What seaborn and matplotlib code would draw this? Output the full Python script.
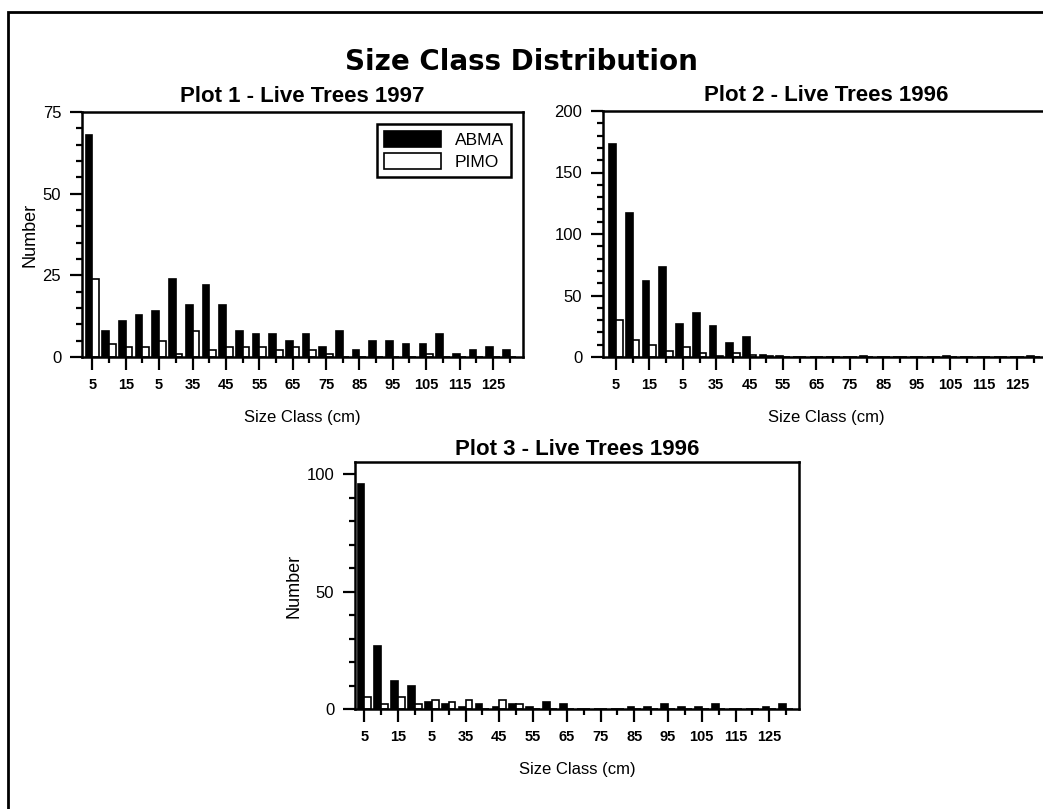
import matplotlib
matplotlib.use("Agg")
import matplotlib.pyplot as plt
import pandas as pd
import seaborn as sns
from matplotlib.patches import Rectangle

# size classes (cm), one bar pair per class
size_classes = ["5", "10", "15", "20", "25", "30", "35", "40", "45", "50", "55", "60", "65",
                "70", "75", "80", "85", "90", "95", "100", "105", "110", "115", "120", "125", "130"]
# labels printed under every other class (the original shows "5" for 25)
tick_labels = ["5", "15", "5", "35", "45", "55", "65", "75", "85", "95", "105", "115", "125"]
species = ["ABMA", "PIMO"]

plot1_abma = [68, 8, 11, 13, 14, 24, 16, 22, 16, 8, 7, 7, 5, 7, 3, 8, 2, 5, 5, 4, 4, 7, 1, 2, 3, 2]
plot1_pimo = [24, 4, 3, 3, 5, 1, 8, 2, 3, 3, 3, 2, 3, 2, 1, 0, 0, 0, 0, 0, 1, 0, 0, 0, 0, 0]

plot2_abma = [173, 117, 62, 73, 27, 36, 25, 11, 16, 2, 1, 0, 0, 0, 0, 1, 0, 0, 0, 0, 1, 0, 0, 0, 0, 1]
plot2_pimo = [30, 14, 10, 5, 8, 3, 1, 3, 2, 1, 0, 0, 0, 0, 0, 0, 0, 0, 0, 0, 0, 0, 0, 0, 0, 0]

plot3_abma = [96, 27, 12, 10, 3, 2, 1, 2, 1, 2, 1, 3, 2, 0, 0, 0, 1, 1, 2, 1, 1, 2, 0, 0, 1, 2]
plot3_pimo = [5, 2, 5, 2, 4, 3, 4, 0, 4, 2, 0, 0, 0, 0, 0, 0, 0, 0, 0, 0, 0, 0, 0, 0, 0, 0]

sns.set_theme(style="ticks")
plt.rcParams["font.family"] = ["Liberation Sans", "DejaVu Sans"]
for key in ["text.color", "axes.labelcolor", "xtick.color", "ytick.color", "axes.edgecolor"]:
    plt.rcParams[key] = "black"

W, H = 1043, 809
fig = plt.figure(figsize=(W / 100, H / 100), dpi=100)


def px_axes(left, top, right, bottom):
    return fig.add_axes([left / W, 1 - bottom / H, (right - left) / W, (bottom - top) / H])


def draw(ax, abma, pimo, title, ymax, ytop, ystep, yminor, xlim, ylabel, legend, tpad):
    df = pd.DataFrame({
        "Size": size_classes * 2,
        "Species": [species[0]] * len(size_classes) + [species[1]] * len(size_classes),
        "Count": abma + pimo,
    })
    sns.barplot(data=df, x="Size", y="Count", hue="Species", order=size_classes,
                hue_order=species, palette={"ABMA": "black", "PIMO": "white"},
                edgecolor="black", linewidth=1.2, width=0.8, errorbar=None,
                ax=ax, legend=legend)
    ax.set_xlim(*xlim)
    ax.set_ylim(0, ytop)
    ax.set_xticks(range(0, len(size_classes), 2))
    ax.set_xticklabels(tick_labels, fontsize=10.5, fontweight="bold")
    ax.set_xticks(range(1, len(size_classes), 2), minor=True)
    ax.set_yticks(range(0, ymax + 1, ystep))
    ax.set_yticks(range(0, ymax + 1, yminor), minor=True)
    ax.tick_params(axis="both", which="major", direction="out", length=9, width=1.6,
                   pad=6, color="black")
    ax.tick_params(axis="both", which="minor", direction="out", length=4.5, width=1.6,
                   color="black")
    ax.tick_params(axis="y", labelsize=12)
    for s in ax.spines.values():
        s.set_visible(True)
        s.set_linewidth(1.8)
        s.set_color("black")
    ax.set_xlabel("Size Class (cm)", fontsize=12, labelpad=13)
    ax.set_ylabel("Number" if ylabel else "", fontsize=13, labelpad=3)
    ax.set_title(title, fontsize=16, fontweight="bold", pad=tpad)
    ax.set_facecolor("white")


ax1 = px_axes(82, 112, 523, 357)
draw(ax1, plot1_abma, plot1_pimo, "Plot 1 - Live Trees 1997", 75, 75, 25, 5,
     (-0.62, 25.8), True, True, 7)
ax1.legend(loc="upper right", frameon=True, fancybox=False, edgecolor="black",
           framealpha=1, fontsize=12.5, handlelength=3.3, handleheight=1.0,
           borderaxespad=0.7, labelspacing=0.3, handletextpad=0.8)
ax1.get_legend().get_frame().set_linewidth(1.8)

ax2 = px_axes(603, 111, 1050, 357)
draw(ax2, plot2_abma, plot2_pimo, "Plot 2 - Live Trees 1996", 200, 200, 50, 10,
     (-0.78, 25.98), False, False, 7)

ax3 = px_axes(355, 462, 799, 709)
draw(ax3, plot3_abma, plot3_pimo, "Plot 3 - Live Trees 1996", 100, 105.2, 50, 10,
     (-0.55, 25.76), True, False, 5)

fig.text(0.5, 1 - 62 / H, "Size Class Distribution", ha="center", va="center",
         fontsize=20, fontweight="bold", family=["DejaVu Sans"])

# outer frame of the page (right and bottom edges fall outside the image)
fig.add_artist(Rectangle((8 / W, -0.05), 1.2, 1 - 12 / H + 0.05, transform=fig.transFigure,
                         fill=False, lw=2, edgecolor="black"))

fig.savefig("out.png", dpi=100, facecolor="white")
